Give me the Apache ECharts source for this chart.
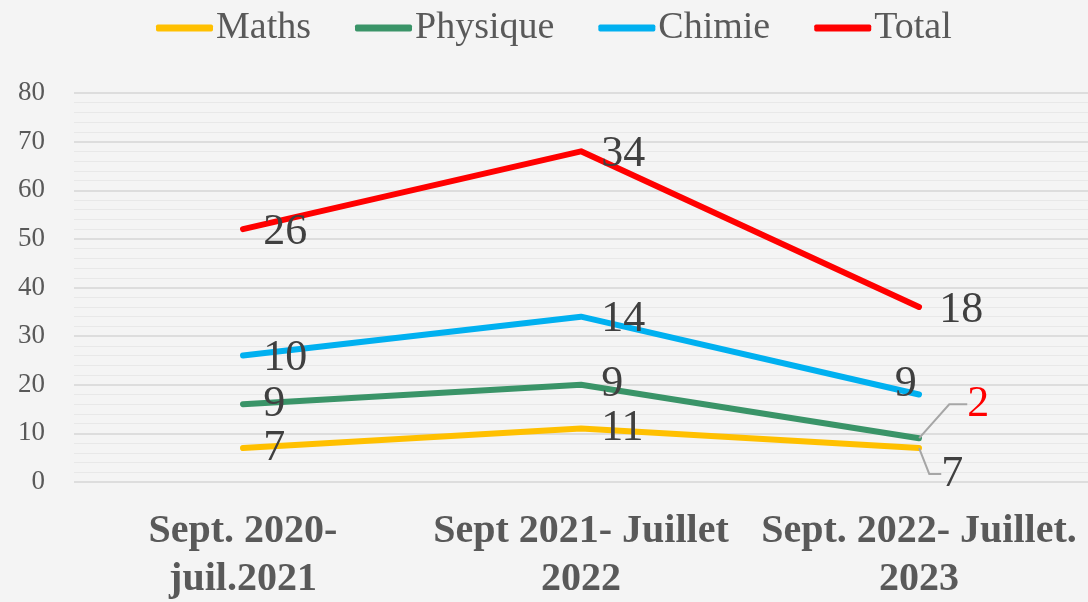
<!DOCTYPE html>
<html><head><meta charset="utf-8">
<script src="https://cdn.jsdelivr.net/npm/echarts@6/dist/echarts.min.js"></script>
<style>html,body{margin:0;padding:0;background:#f4f4f4}#c{width:1088px;height:602px}</style>
</head><body><div id="c"></div>
<script>
const categories = ['Sept. 2020-\njuil.2021', 'Sept 2021- Juillet\n2022', 'Sept. 2022- Juillet.\n2023'];
const maths = [7, 11, 7];
const physique = [9, 9, 2];
const chimie = [10, 14, 9];
const total = [26, 34, 18];
const yTicks = [0, 10, 20, 30, 40, 50, 60, 70, 80];

const FONT = '"Liberation Serif", "DejaVu Serif", serif';
const chart = echarts.init(document.getElementById('c'), null, {renderer: 'canvas'});

function mkSeries(name, data, color, extra) {
  return Object.assign({
    name: name, type: 'line', stack: 'all', data: data,
    symbol: 'circle', symbolSize: 0.5, showSymbol: true, smooth: false,
    lineStyle: {color: color, width: 6, cap: 'round', join: 'round'},
    itemStyle: {color: color},
    label: {show: true, position: 'right', distance: 20, offset: [0, 3], fontFamily: FONT, fontSize: 44, color: '#404040'},
    z: 3
  }, extra || {});
}

const physData = physique.map((v, i) => i === 2 ? {value: v, label: {color: '#ff0000'}, labelLine: {show: true}} : v);
const mathData = maths.map((v, i) => i === 2 ? {value: v, labelLine: {show: true}} : v);
const chimData = chimie.map((v, i) => i === 2 ? {value: v, label: {position: 'left', distance: 2, offset: [0, -10]}} : v);

chart.setOption({
  backgroundColor: '#f4f4f4',
  animation: false,
  legend: {
    top: 4, left: 151,
    icon: 'roundRect', itemWidth: 57, itemHeight: 7, itemGap: 44,
    textStyle: {fontFamily: FONT, fontSize: 38, color: '#595959', padding: [0, 0, 0, -2]},
    data: ['Maths', 'Physique', 'Chimie', 'Total']
  },
  grid: {left: 74, right: 0, top: 93, bottom: 120, containLabel: false, outerBoundsMode: 'none'},
  xAxis: {
    type: 'category', data: categories, boundaryGap: true,
    axisLine: {show: false}, axisTick: {show: false},
    axisLabel: {interval: 0, margin: 26, fontFamily: FONT, fontWeight: 'bold', fontSize: 40, lineHeight: 48, color: '#595959'}
  },
  yAxis: {
    type: 'value', min: 0, max: 80, interval: 10,
    axisLine: {show: false}, axisTick: {show: false},
    axisLabel: {margin: 29, fontFamily: FONT, fontSize: 27, color: '#595959',
      formatter: v => yTicks.includes(v) ? String(v) : ''},
    splitLine: {lineStyle: {color: '#d6d6d6', width: 1.5}},
    minorTick: {show: false, splitNumber: 5},
    minorSplitLine: {show: true, lineStyle: {color: '#e8e8e8', width: 1}}
  },
  series: [
    mkSeries('Maths', mathData, '#ffc000', {
      labelLine: {show: false, length2: 12, lineStyle: {color: '#a6a6a6', width: 2}},
      labelLayout: p => p.dataIndex === 2 ? {dx: 2, dy: 26} : {}
    }),
    mkSeries('Physique', physData, '#3a9468', {
      labelLine: {show: false, length2: 18, lineStyle: {color: '#a6a6a6', width: 2}},
      labelLayout: p => p.dataIndex === 2 ? {dx: 28, dy: -34} : {}
    }),
    mkSeries('Chimie', chimData, '#00b0f0'),
    mkSeries('Total', total, '#ff0000')
  ]
});
</script></body></html>
